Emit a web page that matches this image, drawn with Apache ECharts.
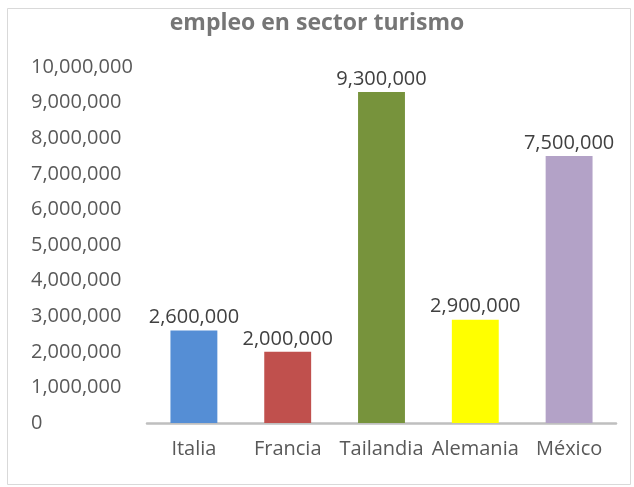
<!DOCTYPE html>
<html>
<head>
<meta charset="utf-8">
<script src="https://cdn.jsdelivr.net/npm/echarts@6/dist/echarts.min.js"></script>
<style>html,body{margin:0;padding:0;background:#fff}#c{width:634px;height:487px}</style>
</head>
<body>
<div id="c"></div>
<script>
const titleText = "empleo en sector turismo";
const categories = ["Italia", "Francia", "Tailandia", "Alemania", "México"];
const values = [2600000, 2000000, 9300000, 2900000, 7500000];
const barColors = ["#558ED5", "#C0504D", "#77933C", "#FFFF00", "#B3A2C7"];
const yMin = 0, yMax = 10000000, yStep = 1000000;

const fmt = v => v.toLocaleString('en-US');
const chart = echarts.init(document.getElementById('c'));
chart.setOption({
  animation: false,
  backgroundColor: '#fff',
  title: {
    text: titleText, left: 'center', top: 7,
    textStyle: { fontFamily: 'Open Sans', fontSize: 23, fontWeight: 'bold', color: '#767676' }
  },
  graphic: [{
    type: 'rect', left: 5, top: 6,
    shape: { width: 623, height: 476 },
    style: { fill: 'none', stroke: '#D9D9D9', lineWidth: 1 }
  }],
  grid: { left: 147, right: 18, top: 67, bottom: 64 },
  xAxis: {
    type: 'category', data: categories,
    axisLine: { show: true, lineStyle: { color: '#BFBFBF', width: 2.5 } },
    axisTick: { show: false },
    axisLabel: { interval: 0, fontFamily: 'Open Sans', fontSize: 20, color: '#595959', margin: 16 }
  },
  yAxis: {
    type: 'value', min: yMin, max: yMax, interval: yStep,
    splitLine: { show: false },
    axisLine: { show: false }, axisTick: { show: false },
    axisLabel: {
      fontFamily: 'Open Sans', fontSize: 20, color: '#595959',
      align: 'left', margin: 116, formatter: v => fmt(v)
    }
  },
  series: [{
    type: 'bar', barWidth: '50%',
    data: values.map((v, i) => ({ value: v, itemStyle: { color: barColors[i] } })),
    label: {
      show: true, position: 'top', distance: 3,
      fontFamily: 'Open Sans', fontSize: 20, color: '#404040',
      formatter: p => fmt(p.value)
    }
  }]
});
</script>
</body>
</html>
